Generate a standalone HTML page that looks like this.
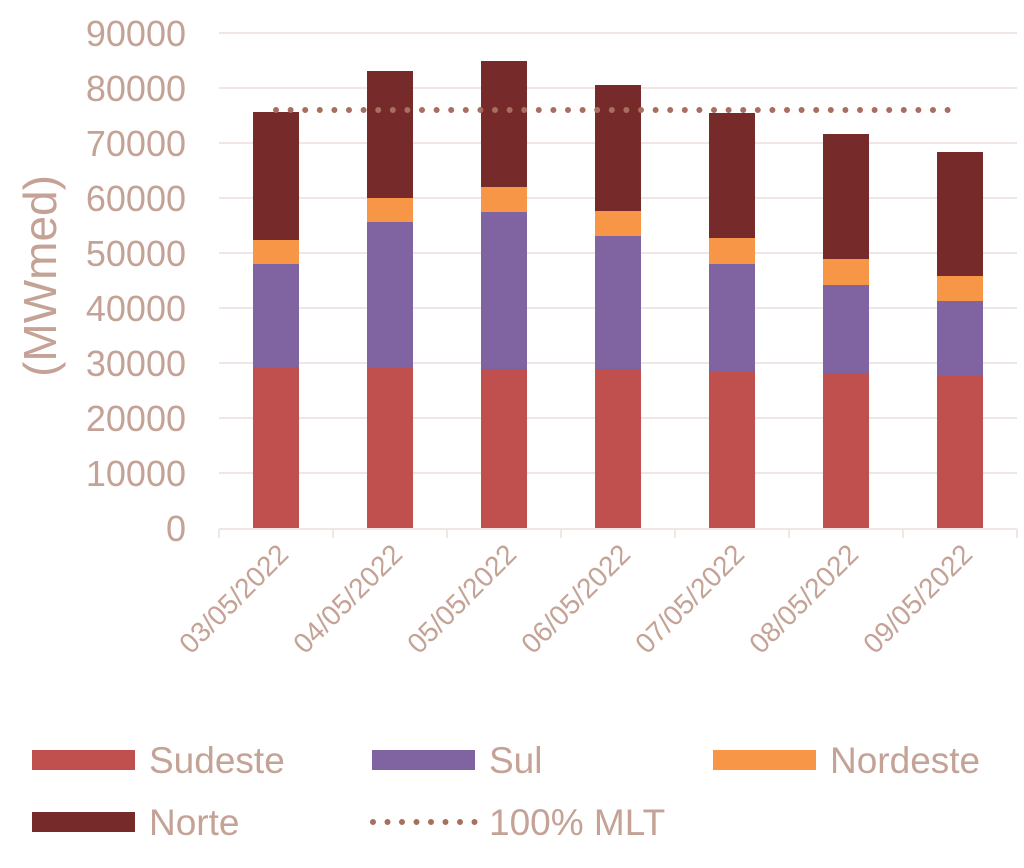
<!DOCTYPE html>
<html><head><meta charset="utf-8"><style>body{margin:0;background:#fff}</style></head><body>
<svg width="1024" height="863" xmlns="http://www.w3.org/2000/svg" font-family="Liberation Sans, sans-serif">
<g stroke="#f0e6e4" stroke-width="2">
<line x1="219" x2="1017" y1="33" y2="33"/><line x1="219" x2="1017" y1="88" y2="88"/><line x1="219" x2="1017" y1="143" y2="143"/><line x1="219" x2="1017" y1="198" y2="198"/><line x1="219" x2="1017" y1="253" y2="253"/><line x1="219" x2="1017" y1="308" y2="308"/><line x1="219" x2="1017" y1="363" y2="363"/><line x1="219" x2="1017" y1="418" y2="418"/><line x1="219" x2="1017" y1="473" y2="473"/>
<line x1="219" x2="1017" y1="529" y2="529"/>
<line x1="219" x2="219" y1="529" y2="538"/><line x1="333" x2="333" y1="529" y2="538"/><line x1="447" x2="447" y1="529" y2="538"/><line x1="561" x2="561" y1="529" y2="538"/><line x1="675" x2="675" y1="529" y2="538"/><line x1="789" x2="789" y1="529" y2="538"/><line x1="903" x2="903" y1="529" y2="538"/><line x1="1017" x2="1017" y1="529" y2="538"/>
</g>
<g fill="#c4a396" font-size="36" text-anchor="end">
<text x="186" y="46">90000</text><text x="186" y="101">80000</text><text x="186" y="156">70000</text><text x="186" y="211">60000</text><text x="186" y="266">50000</text><text x="186" y="321">40000</text><text x="186" y="376">30000</text><text x="186" y="431">20000</text><text x="186" y="486">10000</text><text x="186" y="541">0</text>
</g>
<text transform="translate(56,276) rotate(-90)" fill="#c4a396" font-size="46" text-anchor="middle">(MWmed)</text>
<g>
<rect x="253" y="367" width="46" height="161" fill="#c0504d"/><rect x="253" y="264" width="46" height="103" fill="#8064a2"/><rect x="253" y="240" width="46" height="24" fill="#f79646"/><rect x="253" y="112" width="46" height="128" fill="#772a2a"/>
<rect x="367" y="368" width="46" height="160" fill="#c0504d"/><rect x="367" y="222" width="46" height="146" fill="#8064a2"/><rect x="367" y="198" width="46" height="24" fill="#f79646"/><rect x="367" y="71" width="46" height="127" fill="#772a2a"/>
<rect x="481" y="369" width="46" height="159" fill="#c0504d"/><rect x="481" y="212" width="46" height="157" fill="#8064a2"/><rect x="481" y="187" width="46" height="25" fill="#f79646"/><rect x="481" y="61" width="46" height="126" fill="#772a2a"/>
<rect x="595" y="369" width="46" height="159" fill="#c0504d"/><rect x="595" y="236" width="46" height="133" fill="#8064a2"/><rect x="595" y="211" width="46" height="25" fill="#f79646"/><rect x="595" y="85" width="46" height="126" fill="#772a2a"/>
<rect x="709" y="371" width="46" height="157" fill="#c0504d"/><rect x="709" y="264" width="46" height="107" fill="#8064a2"/><rect x="709" y="238" width="46" height="26" fill="#f79646"/><rect x="709" y="113" width="46" height="125" fill="#772a2a"/>
<rect x="823" y="373" width="46" height="155" fill="#c0504d"/><rect x="823" y="285" width="46" height="88" fill="#8064a2"/><rect x="823" y="259" width="46" height="26" fill="#f79646"/><rect x="823" y="134" width="46" height="125" fill="#772a2a"/>
<rect x="937" y="375" width="46" height="153" fill="#c0504d"/><rect x="937" y="301" width="46" height="74" fill="#8064a2"/><rect x="937" y="276" width="46" height="25" fill="#f79646"/><rect x="937" y="152" width="46" height="124" fill="#772a2a"/>
</g>
<line x1="276" x2="950" y1="110" y2="110" stroke="#a86e5e" stroke-width="6" stroke-linecap="round" stroke-dasharray="0 14.6"/>
<g fill="#c4a396" font-size="28" text-anchor="end">
<text transform="translate(290,556) rotate(-45)">03/05/2022</text>
<text transform="translate(404,556) rotate(-45)">04/05/2022</text>
<text transform="translate(518,556) rotate(-45)">05/05/2022</text>
<text transform="translate(632,556) rotate(-45)">06/05/2022</text>
<text transform="translate(746,556) rotate(-45)">07/05/2022</text>
<text transform="translate(860,556) rotate(-45)">08/05/2022</text>
<text transform="translate(974,556) rotate(-45)">09/05/2022</text>
</g>
<rect x="32" y="750" width="103" height="20" fill="#c0504d"/>
<rect x="372" y="750" width="103" height="20" fill="#8064a2"/>
<rect x="713" y="750" width="103" height="20" fill="#f79646"/>
<rect x="32" y="812" width="103" height="20" fill="#772a2a"/>
<line x1="373" x2="475" y1="822" y2="822" stroke="#a86e5e" stroke-width="6" stroke-linecap="round" stroke-dasharray="0 14.5"/>
<g fill="#c4a396" font-size="37">
<text x="149" y="773">Sudeste</text><text x="489" y="773">Sul</text><text x="830" y="773">Nordeste</text>
<text x="149" y="835">Norte</text><text x="489" y="835">100% MLT</text>
</g>
</svg>
</body></html>
